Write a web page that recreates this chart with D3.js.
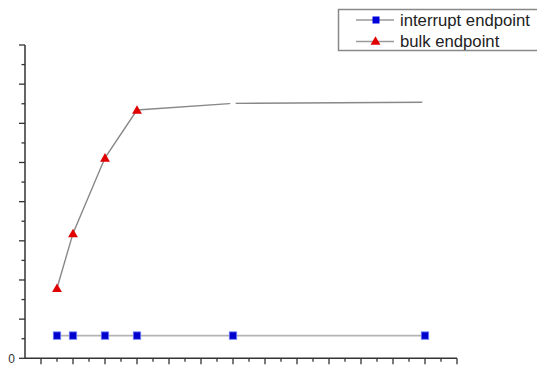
<!DOCTYPE html>
<html><head><meta charset="utf-8">
<script src="https://cdn.jsdelivr.net/npm/d3@7"></script>
<style>body{margin:0;background:#fff}svg{display:block}</style>
</head><body>
<svg id="c" width="537" height="367"></svg>
<script>
const xValues = [1, 2, 4, 6, 12, 24];
const interruptValues = [0.58, 0.58, 0.58, 0.58, 0.58, 0.58];
const bulkValues = [1.79, 3.19, 5.12, 6.34, 6.51, 6.54];
const seriesNames = ["interrupt endpoint", "bulk endpoint"];
const yTickLabels = ["0"];

const svg = d3.select("#c");
const x = d3.scaleLinear().domain([-1, 26]).range([25, 457]);
const y = d3.scaleLinear().domain([0, 8]).range([358.3, 45]);
const axisColor = "#333";

// y axis
const gy = svg.append("g").attr("transform", `translate(${x(-1)},0)`);
gy.append("line").attr("y1", y(0)).attr("y2", y(8)).attr("stroke", axisColor).attr("stroke-width", 1.5);
d3.range(0, 8.01, 0.5).forEach(v => {
  const major = Math.abs(v - Math.round(v)) < 1e-6;
  gy.append("line").attr("x1", major ? -6 : -3.5).attr("x2", 0)
    .attr("y1", y(v)).attr("y2", y(v)).attr("stroke", axisColor).attr("stroke-width", 1.3);
});
gy.append("text").attr("x", -10).attr("y", y(0)).attr("dy", "0.35em").attr("text-anchor", "end")
  .attr("font-family", "Liberation Sans, Arial, sans-serif").attr("font-size", 12).attr("fill", "#333")
  .text(yTickLabels[0]);

// x axis
const gx = svg.append("g").attr("transform", `translate(0,${y(0)})`);
gx.append("line").attr("x1", x(-1)).attr("x2", x(26)).attr("stroke", axisColor).attr("stroke-width", 1.5);
d3.range(0, 27, 1).forEach(v => {
  const major = v % 2 === 0 || v === 26;
  gx.append("line").attr("x1", x(v)).attr("x2", x(v)).attr("y1", 0).attr("y2", major ? 6 : 3.5)
    .attr("stroke", axisColor).attr("stroke-width", 1.3);
});

const line = d3.line().x(d => x(d[0])).y(d => y(d[1]));
const intData = xValues.map((v, i) => [v, interruptValues[i]]);
const bulkData = xValues.map((v, i) => [v, bulkValues[i]]);

svg.append("path").datum(intData).attr("d", line).attr("fill", "none").attr("stroke", "#b4b4b4").attr("stroke-width", 1.6);
svg.append("path").datum(bulkData).attr("d", line).attr("fill", "none").attr("stroke", "#888").attr("stroke-width", 1.4);

const tri = d3.symbol().type(d3.symbolTriangle).size(42);
svg.selectAll(".tri").data(bulkData).join("path")
  .attr("transform", d => `translate(${x(d[0])},${y(d[1]) + 1})`)
  .attr("d", tri)
  .attr("fill", (d, i) => i < 4 ? "#e00000" : "#ffffff");

svg.selectAll(".sq").data(intData).join("rect")
  .attr("x", d => x(d[0]) - 3.7).attr("y", d => y(d[1]) - 3.7)
  .attr("width", 7.4).attr("height", 7.4)
  .attr("fill", "#0000cc").attr("stroke", "#6a7cff").attr("stroke-width", 0.8);

// legend
const lg = svg.append("g");
lg.append("rect").attr("x", 338.5).attr("y", 9.5).attr("width", 210).attr("height", 41)
  .attr("fill", "#fff").attr("stroke", "#888").attr("stroke-width", 1.5);
const rows = [20, 41.5];
seriesNames.forEach((name, i) => {
  lg.append("line").attr("x1", 356).attr("x2", 394).attr("y1", rows[i]).attr("y2", rows[i])
    .attr("stroke", "#9a9a9a").attr("stroke-width", 1.5);
  if (i === 0) {
    lg.append("rect").attr("x", 372.5).attr("y", rows[i] - 3.5).attr("width", 7).attr("height", 7).attr("fill", "#0000dd");
  } else {
    lg.append("path").attr("transform", `translate(375.5,${rows[i] + 0.5})`).attr("d", tri).attr("fill", "#e00000");
  }
  lg.append("text").attr("x", 400).attr("y", rows[i]).attr("dy", "0.35em")
    .attr("font-family", "Liberation Sans, Arial, sans-serif").attr("font-size", 16.7).attr("fill", "#222")
    .text(name);
});
</script>
</body></html>
